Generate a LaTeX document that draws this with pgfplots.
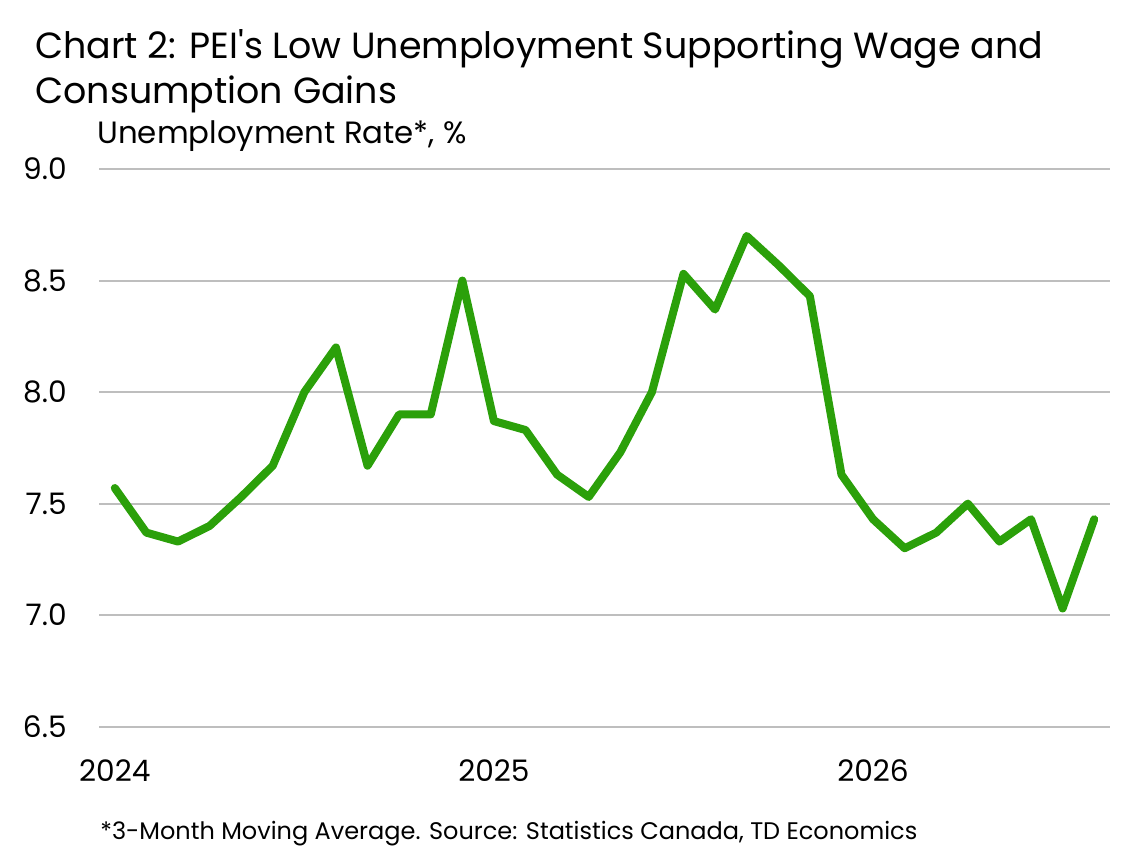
\documentclass[border=0pt]{standalone}
\usepackage{fontspec}
\setmainfont{Poppins}
\usepackage{pgfplots}
\pgfplotsset{compat=1.18}

\definecolor{tdgreen}{RGB}{43,160,10}
\definecolor{gridgray}{RGB}{190,190,190}

% 3-month moving average, monthly from Jan 2024 (index 0)
\pgfplotstableread{
idx rate
0 7.57
1 7.37
2 7.33
3 7.40
4 7.53
5 7.67
6 8.00
7 8.20
8 7.67
9 7.90
10 7.90
11 8.50
12 7.87
13 7.83
14 7.63
15 7.53
16 7.73
17 8.00
18 8.53
19 8.37
20 8.70
21 8.57
22 8.43
23 7.63
24 7.43
25 7.30
26 7.37
27 7.50
28 7.33
29 7.43
30 7.03
31 7.43
}\unemp

\begin{document}
\begin{tikzpicture}
\path[use as bounding box] (0,0) rectangle (572pt,-425.5pt);

\node[anchor=base west, inner sep=0pt, font=\fontsize{18.2pt}{21pt}\selectfont]
  at (17.5pt,-29pt) {Chart 2: PEI\textquotesingle s Low Unemployment Supporting Wage and};
\node[anchor=base west, inner sep=0pt, font=\fontsize{18.2pt}{21pt}\selectfont]
  at (17.5pt,-51.5pt) {Consumption Gains};
\node[anchor=base west, inner sep=0pt, font=\fontsize{15.4pt}{18pt}\selectfont]
  at (48.5pt,-71.5pt) {Unemployment Rate*, \%};

\begin{axis}[
    at={(49.5pt,-363.35pt)},
    anchor=south west,
    scale only axis,
    width=505.5pt,
    height=278.85pt,
    xmin=-0.5, xmax=31.5,
    ymin=6.5, ymax=9,
    xtick={0,12,24},
    xticklabels={2024,2025,2026},
    ytick={6.5,7,7.5,8,8.5,9},
    /pgf/number format/fixed,
    /pgf/number format/fixed zerofill,
    /pgf/number format/precision=1,
    /pgf/number format/assume math mode=true,
    axis line style={draw=none},
    tick style={draw=none},
    ymajorgrids,
    grid style={gridgray, line width=1pt},
    ticklabel style={font=\fontsize{14.8pt}{17pt}\selectfont},
    yticklabel style={anchor=east, inner sep=0pt, xshift=-16pt},
    xticklabel style={anchor=base, inner sep=0pt, yshift=-27.6pt},
    clip=false,
]
\addplot[tdgreen, line width=4pt, line join=round, line cap=round] table[x=idx, y=rate] {\unemp};
\end{axis}

\node[anchor=base west, inner sep=0pt, font=\fontsize{12pt}{14pt}\selectfont]
  at (50pt,-419.6pt) {*3-Month Moving Average. Source: Statistics Canada, TD Economics};
\end{tikzpicture}
\end{document}
